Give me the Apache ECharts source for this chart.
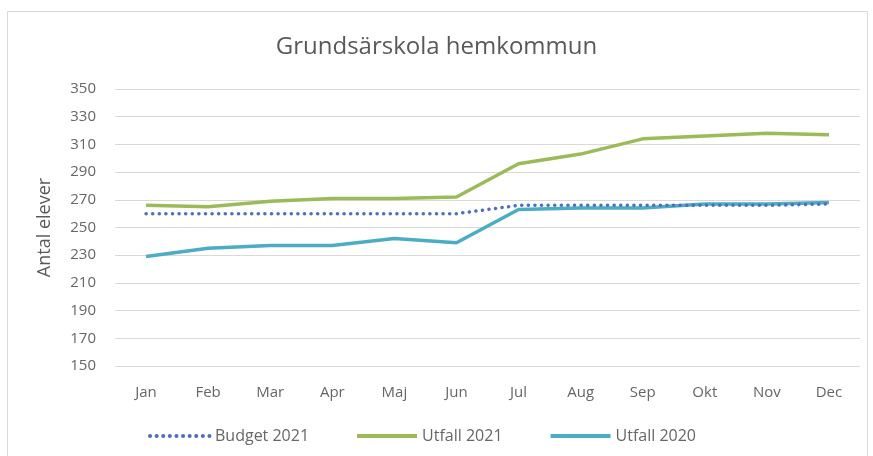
<!DOCTYPE html>
<html><head><meta charset="utf-8">
<script src="https://cdn.jsdelivr.net/npm/echarts@6/dist/echarts.min.js"></script>
<style>html,body{margin:0;padding:0;background:#fff}#c{width:873px;height:456px}</style>
</head><body><div id="c"></div>
<script>
const categories = ['Jan','Feb','Mar','Apr','Maj','Jun','Jul','Aug','Sep','Okt','Nov','Dec'];
const budget2021 = [260,260,260,260,260,260,266,266,266,266,266,267];
const utfall2021 = [266,265,269,271,271,272,296,303,314,316,318,317];
const utfall2020 = [229,235,237,237,242,239,263,264,264,267,267,268];
const yTicks = [150,170,190,210,230,250,270,290,310,330,350];

const chart = echarts.init(document.getElementById('c'), null, {renderer:'canvas'});
const font = '"Open Sans", "Liberation Sans", sans-serif';
const txt = '#666666';
chart.setOption({
  animation:false,
  backgroundColor:'#fff',
  graphic:[{type:'rect',silent:true,shape:{x:7.5,y:11.5,width:860,height:460},style:{fill:'none',stroke:'#d9d9d9',lineWidth:1}}],
  title:{text:'Grundsärskola hemkommun',left:'center',top:30,textStyle:{fontFamily:font,fontSize:24,fontWeight:'normal',color:'#595959'}},
  grid:{left:115,right:13,top:89,bottom:90},
  legend:{left:143,top:423,itemWidth:60,itemHeight:12,itemGap:46,textStyle:{fontFamily:font,fontSize:16,color:txt},
    itemStyle:{opacity:0},lineStyle:{width:4},
    data:['Budget 2021','Utfall 2021','Utfall 2020']},
  xAxis:{type:'category',data:categories,boundaryGap:true,axisLine:{show:false},axisTick:{show:false},
    axisLabel:{fontFamily:font,fontSize:15,color:txt,margin:19}},
  yAxis:{type:'value',min:yTicks[0],max:yTicks[yTicks.length-1],interval:20,name:'Antal elever',nameLocation:'middle',nameGap:61,
    nameTextStyle:{fontFamily:font,fontSize:18,color:'#595959'},
    axisLabel:{fontFamily:font,fontSize:15,color:txt,margin:19},
    splitLine:{lineStyle:{color:'#d9d9d9',width:1}},axisLine:{show:false},axisTick:{show:false}},
  series:[
    {name:'Budget 2021',type:'line',data:budget2021,showSymbol:false,symbol:'none',
     lineStyle:{color:'#4f6fbd',width:3.5,type:[0.1,6.5],cap:'round'},itemStyle:{color:'#4f6fbd'},z:3},
    {name:'Utfall 2021',type:'line',data:utfall2021,showSymbol:false,symbol:'none',
     lineStyle:{color:'#9bbb59',width:3.5},itemStyle:{color:'#9bbb59'},z:2},
    {name:'Utfall 2020',type:'line',data:utfall2020,showSymbol:false,symbol:'none',
     lineStyle:{color:'#4bacc6',width:3.5},itemStyle:{color:'#4bacc6'},z:2}
  ]
});
</script></body></html>
